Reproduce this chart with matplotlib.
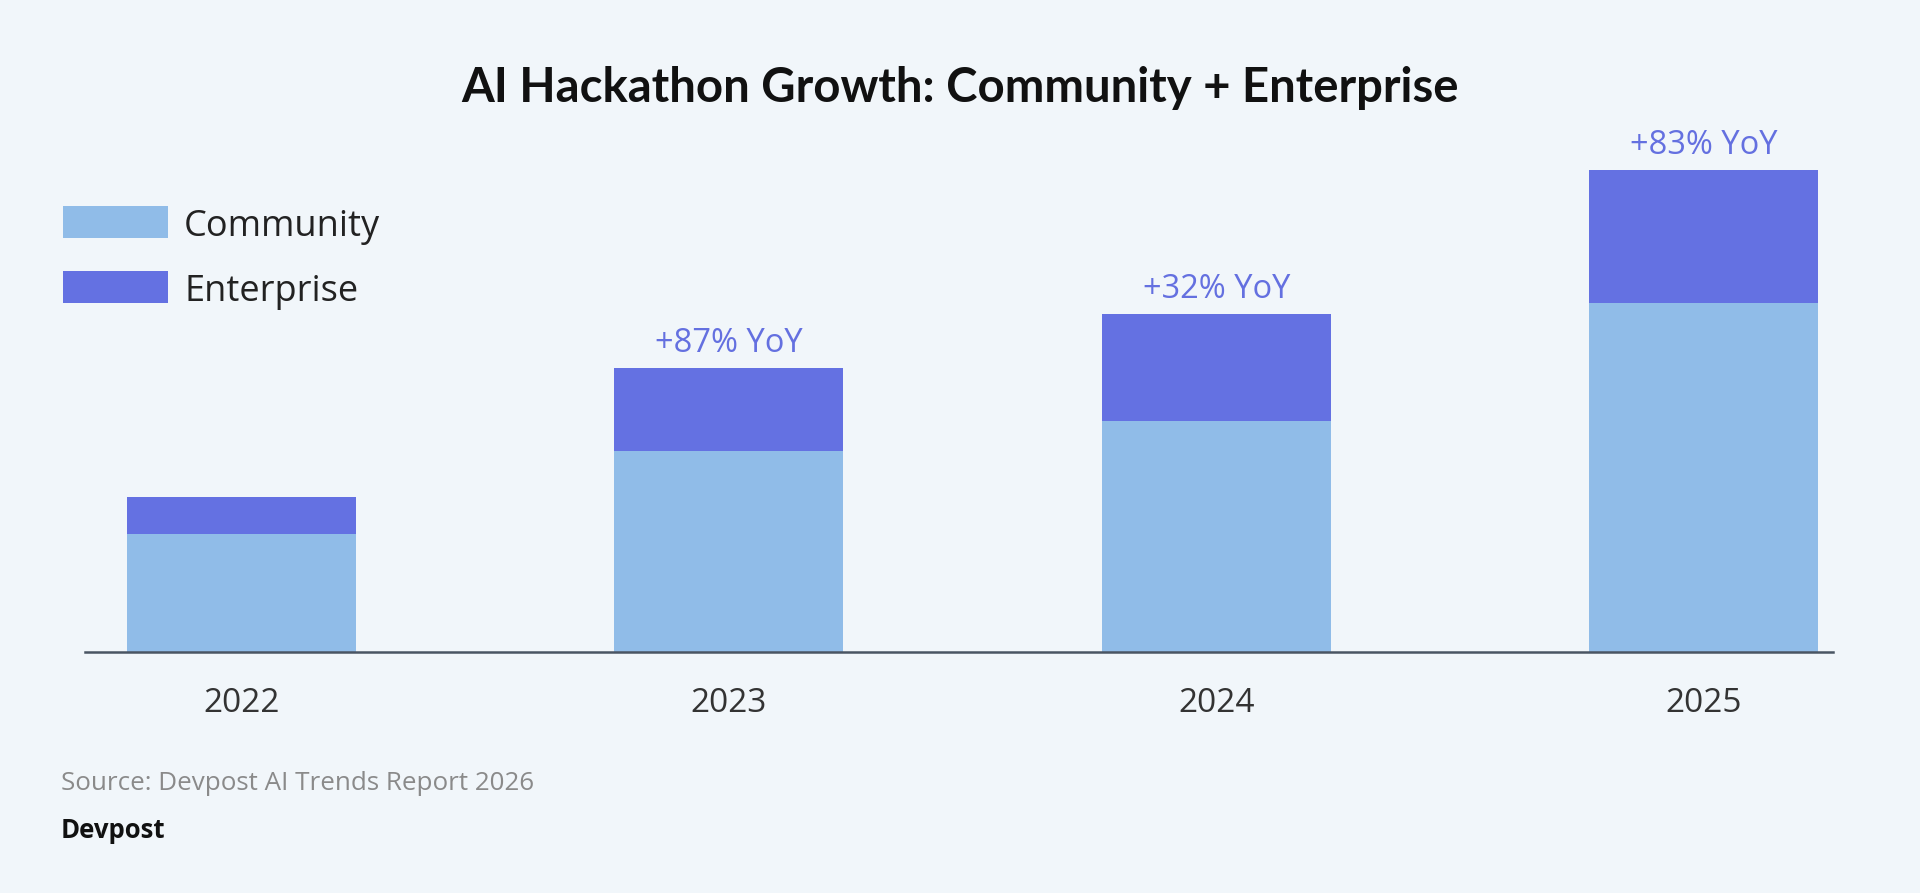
import matplotlib
matplotlib.use("Agg")
import matplotlib.pyplot as plt
from matplotlib.patches import Rectangle

years = ["2022", "2023", "2024", "2025"]
community = [118, 201, 231, 349]
enterprise = [37, 83, 107, 133]
yoy_labels = ["", "+87% YoY", "+32% YoY", "+83% YoY"]

W, H = 1920, 893
BG = "#F1F6FA"
C_COMM = "#90BCE8"
C_ENT = "#6471E2"
C_LABEL = "#6470E0"
FONT = "Open Sans"
TFONT = "Lato"

fig = plt.figure(figsize=(W / 100, H / 100), dpi=100, facecolor=BG)

def fx(px):
    return px / W

def fy(py):
    return 1 - py / H

ax = fig.add_axes([fx(85), fy(652), fx(1833) - fx(85), (652 - 100) / H])
ax.set_facecolor(BG)
x = list(range(len(years)))
ax.bar(x, community, width=0.47, color=C_COMM, zorder=2)
ax.bar(x, enterprise, width=0.47, bottom=community, color=C_ENT, zorder=2)
for i, lab in enumerate(yoy_labels):
    if lab:
        ax.text(i, community[i] + enterprise[i] + 8, lab, ha="center", va="bottom",
                fontsize=23.5, color=C_LABEL, family=FONT, fontweight="medium")
ax.set_xlim(-0.321, 3.265)
ax.set_ylim(0, 552)
for s in ["top", "right", "left"]:
    ax.spines[s].set_visible(False)
ax.spines["bottom"].set_color("#4A5563")
ax.spines["bottom"].set_linewidth(1.8)
ax.set_yticks([])
ax.set_xticks(x)
ax.set_xticklabels(years, fontsize=24, color="#333333", family=FONT)
ax.tick_params(axis="x", length=0, pad=25)

fig.text(0.5, fy(88), "AI Hackathon Growth: Community + Enterprise", ha="center", va="center",
         fontsize=34, fontweight="bold", color="#111111", family=TFONT)

# legend
for (label, col, yc) in [("Community", C_COMM, 222), ("Enterprise", C_ENT, 287)]:
    fig.patches.append(Rectangle((fx(63), fy(yc + 16)), fx(168) - fx(63), 32 / H,
                                 transform=fig.transFigure, facecolor=col, edgecolor="none"))
    fig.text(fx(184), fy(yc + 5), label, ha="left", va="center", fontsize=26,
             color="#222222", family=FONT, fontweight="medium")

fig.text(fx(61), fy(783), "Source: Devpost AI Trends Report 2026", ha="left", va="center",
         fontsize=18.7, color="#8A8A8A", family=FONT)
fig.text(fx(61), fy(830), "Devpost", ha="left", va="center",
         fontsize=18.5, color="#111111", family=FONT, fontweight="bold")

fig.savefig("out.png", dpi=100, facecolor=BG)
